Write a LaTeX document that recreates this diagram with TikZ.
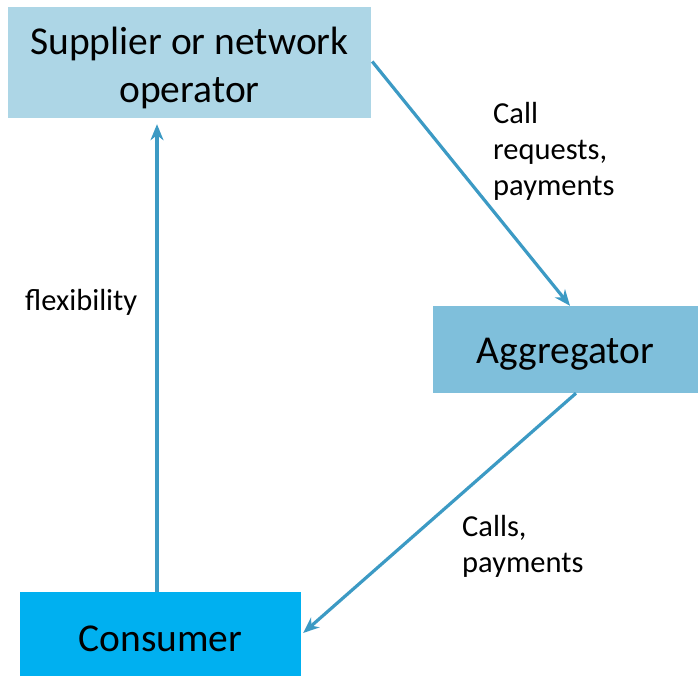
\documentclass[tikz,border=0pt]{standalone}
\usepackage{fontspec}
\setmainfont{Carlito}
\usetikzlibrary{positioning,arrows.meta}
\definecolor{supplierblue}{HTML}{ADD6E6}
\definecolor{aggblue}{HTML}{7FBFDB}
\definecolor{consumerblue}{HTML}{00B0F0}
\definecolor{flowblue}{HTML}{3C9AC4}

\begin{document}
\begin{tikzpicture}[x=1pt,y=-1pt,
    box/.style={inner sep=0pt, align=center, font=\fontsize{39.5}{48}\selectfont},
    flow/.style={draw=flowblue, line width=3.2pt, -{Stealth[length=16pt,width=13pt,inset=5pt]}},
    note/.style={align=left, inner sep=0pt, font=\fontsize{30.5}{36}\selectfont}]
    \useasboundingbox (0,0) rectangle (698,676);
    \node[box, fill=supplierblue, minimum width=363pt, minimum height=111pt] (supplier) at (189.5,62.5) {\rule{0pt}{38pt}Supplier or network\\operator};
    \node[box, fill=aggblue, minimum width=265pt, minimum height=87pt, text height=35pt] (aggregator) at (565.5,349.5) {Aggregator};
    \node[box, fill=consumerblue, minimum width=281pt, minimum height=84pt, text height=35pt] (consumer) at (160.5,634) {Consumer};

    \draw[flow] ([shift={(1pt,1pt)}]supplier.east) -- ([xshift=4.5pt]aggregator.north);
    \draw[flow] ([xshift=10.5pt]aggregator.south) -- ([shift={(2pt,1pt)}]consumer.east);
    \draw[flow, shorten >=6pt] ([xshift=-3.5pt]consumer.north) -- ([xshift=-3.5pt]consumer.north |- supplier.south);

    \node[note, anchor=north west] (callreq) at (493,102) {Call\\requests,\\payments};
    \node[note, anchor=west] (flex) at (25,302) {flexibility};
    \node[note, anchor=north west] (calls) at (462,515) {Calls,\\payments};
\end{tikzpicture}
\end{document}
